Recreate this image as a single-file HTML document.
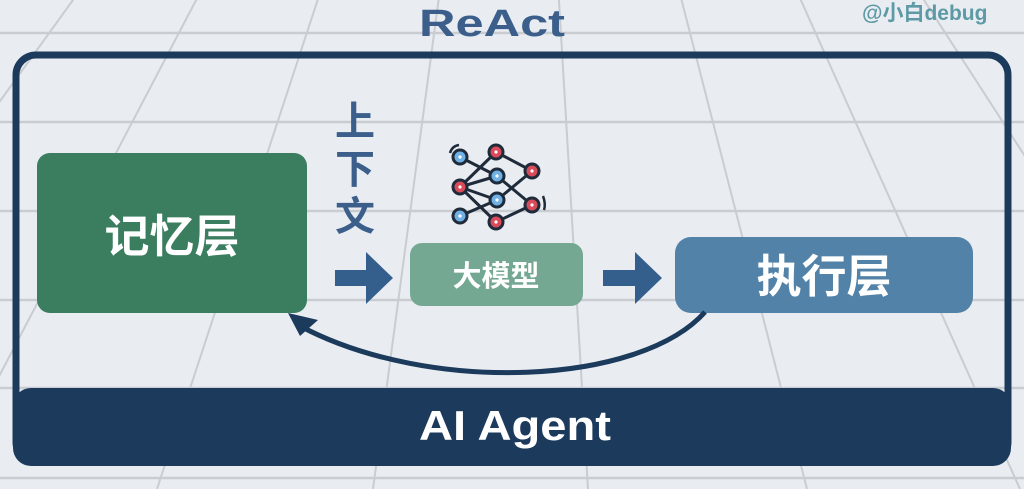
<!DOCTYPE html>
<html><head><meta charset="utf-8"><style>
html,body{margin:0;padding:0;width:1024px;height:489px;overflow:hidden;background:#e9edf1;}
svg{display:block}
.t{font-family:"Liberation Sans","Noto Sans CJK SC",sans-serif;font-weight:bold;}
</style></head><body>
<svg width="1024" height="489" viewBox="0 0 1024 489" xmlns="http://www.w3.org/2000/svg">
<g stroke="#c9ccd0" stroke-width="2.5">
<line x1="0" y1="33" x2="1024" y2="33"/>
<line x1="0" y1="122" x2="1024" y2="122"/>
<line x1="0" y1="211" x2="1024" y2="211"/>
<line x1="0" y1="300" x2="1024" y2="300"/>
<line x1="0" y1="388" x2="1024" y2="388"/>
<line x1="0" y1="478" x2="1024" y2="478"/>
</g>
<g stroke="#c9ccd0" stroke-width="2">
<line x1="522" y1="-622" x2="-500" y2="489"/>
<line x1="522" y1="-622" x2="-280" y2="489"/>
<line x1="522" y1="-622" x2="-60" y2="489"/>
<line x1="522" y1="-622" x2="157" y2="489"/>
<line x1="522" y1="-622" x2="373" y2="489"/>
<line x1="522" y1="-622" x2="588" y2="489"/>
<line x1="522" y1="-622" x2="807" y2="489"/>
<line x1="522" y1="-622" x2="1020" y2="489"/>
<line x1="522" y1="-622" x2="1240" y2="489"/>
<line x1="522" y1="-622" x2="1455" y2="489"/>
</g>
<text class="t" x="492" y="36" text-anchor="middle" font-size="38" fill="#3b5f8a" textLength="146" lengthAdjust="spacingAndGlyphs">ReAct</text>
<text class="t" x="862" y="20" font-size="21" fill="#5d9aa6">@小白debug</text>
<rect x="16" y="55" width="992" height="407" rx="20" fill="none" stroke="#1b3a5c" stroke-width="7"/>
<rect x="13" y="388" width="998" height="78" rx="18" fill="#1b3a5c"/>
<text class="t" x="515" y="440" text-anchor="middle" font-size="42" fill="#ffffff" textLength="192" lengthAdjust="spacingAndGlyphs">AI Agent</text>
<rect x="37" y="153" width="270" height="160" rx="13" fill="#3a7d5f"/>
<text class="t" x="172" y="252" text-anchor="middle" font-size="45" fill="#ffffff">记忆层</text>
<text class="t" x="355" y="135" text-anchor="middle" font-size="40" fill="#3b5f8a">上</text>
<text class="t" x="355" y="183" text-anchor="middle" font-size="40" fill="#3b5f8a">下</text>
<text class="t" x="355" y="230" text-anchor="middle" font-size="40" fill="#3b5f8a">文</text>
<polygon points="335,270 366,270 366,252 393,278 366,304 366,286 335,286" fill="#345f8c"/>
<polygon points="603,270 635,270 635,252 662,278 635,304 635,286 603,286" fill="#345f8c"/>
<rect x="410" y="243" width="173" height="63" rx="12" fill="#75a892"/>
<text class="t" x="496" y="286" text-anchor="middle" font-size="29" fill="#ffffff">大模型</text>
<rect x="675" y="237" width="298" height="76" rx="16" fill="#5282a7"/>
<text class="t" x="824" y="292" text-anchor="middle" font-size="45" fill="#ffffff">执行层</text>
<path d="M705,312 C640,385 430,395 300,326" fill="none" stroke="#1b3a5c" stroke-width="5"/>
<polygon points="288,313 318,320 300,336" fill="#1b3a5c"/>
<g stroke="#1f2a3a" stroke-width="3">
<line x1="460" y1="157" x2="497" y2="176"/>
<line x1="460" y1="187" x2="496" y2="152"/>
<line x1="460" y1="187" x2="497" y2="176"/>
<line x1="460" y1="187" x2="497" y2="200"/>
<line x1="460" y1="187" x2="496" y2="222"/>
<line x1="460" y1="216" x2="497" y2="200"/>
<line x1="496" y1="152" x2="532" y2="171"/>
<line x1="497" y1="176" x2="532" y2="205"/>
<line x1="497" y1="200" x2="532" y2="171"/>
<line x1="496" y1="222" x2="532" y2="205"/>
</g>
<g stroke="#1f2a3a" stroke-width="3">
<circle cx="460" cy="157" r="7" fill="#6fb1e4"/>
<circle cx="497" cy="176" r="7" fill="#6fb1e4"/>
<circle cx="497" cy="200" r="7" fill="#6fb1e4"/>
<circle cx="460" cy="216" r="7" fill="#6fb1e4"/>
<circle cx="496" cy="152" r="7" fill="#d94b5a"/>
<circle cx="532" cy="171" r="7" fill="#d94b5a"/>
<circle cx="460" cy="187" r="7" fill="#d94b5a"/>
<circle cx="532" cy="205" r="7" fill="#d94b5a"/>
<circle cx="496" cy="222" r="7" fill="#d94b5a"/>
</g>
<g fill="#fff"><circle cx="460" cy="157" r="1.6"/><circle cx="497" cy="176" r="1.6"/><circle cx="497" cy="200" r="1.6"/><circle cx="460" cy="216" r="1.6"/><circle cx="496" cy="152" r="1.6"/><circle cx="532" cy="171" r="1.6"/><circle cx="460" cy="187" r="1.6"/><circle cx="532" cy="205" r="1.6"/><circle cx="496" cy="222" r="1.6"/></g>
<path d="M450,153 Q452,146 459,145" fill="none" stroke="#1f2a3a" stroke-width="2.5"/>
<path d="M543,196 Q546,204 544,210" fill="none" stroke="#1f2a3a" stroke-width="2.5"/>
</svg>
</body></html>
